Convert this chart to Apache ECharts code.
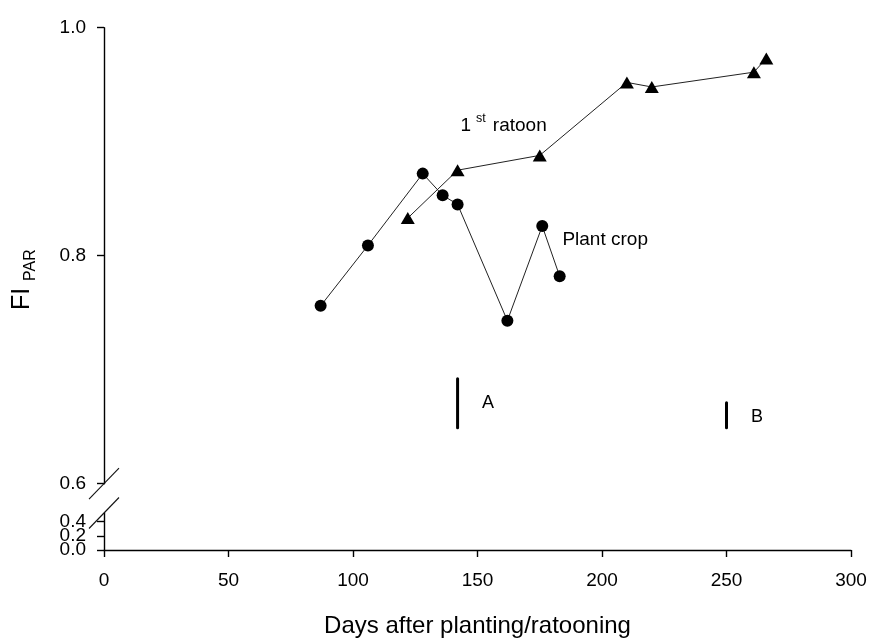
<!DOCTYPE html>
<html>
<head>
<meta charset="utf-8">
<script src="https://cdn.jsdelivr.net/npm/echarts@6/dist/echarts.min.js"></script>
<style>
  html, body { margin: 0; padding: 0; background: #fff; }
  #chart { width: 871px; height: 639px; }
</style>
</head>
<body>
<div id="chart"></div>
<script>
// Fraction of intercepted PAR versus days after planting / ratooning
var plantDays = [87, 106, 128, 136, 142, 162, 176, 183];
var plantFi   = [0.756, 0.809, 0.872, 0.853, 0.845, 0.743, 0.826, 0.782];

var ratoonDays = [122, 142, 175, 210, 220, 261, 266];
var ratoonFi   = [0.833, 0.875, 0.888, 0.952, 0.948, 0.961, 0.973];

// Least significant difference bars (day, low, high)
var lsdNames = ['A', 'B'];
var lsdDay   = [142, 250];
var lsdLow   = [0.649, 0.649];
var lsdHigh  = [0.692, 0.671];

var xTicks = [0, 50, 100, 150, 200, 250, 300];
var yTicksUpper = [0.6, 0.8, 1.0];
var yTicksLower = [0.0, 0.2, 0.4];

var FONT = '"Liberation Sans", Arial, sans-serif';
var INK = '#000';

function zip(a, b) { return a.map(function (v, i) { return [v, b[i]]; }); }

var chart = echarts.init(document.getElementById('chart'), null, { renderer: 'canvas' });

var series = [
  {
    name: 'Plant crop', type: 'line', xAxisIndex: 0, yAxisIndex: 0,
    data: zip(plantDays, plantFi),
    symbol: 'circle', symbolSize: 12,
    itemStyle: { color: INK },
    lineStyle: { color: '#222', width: 1 },
    animation: false, z: 3
  },
  {
    name: '1st ratoon', type: 'line', xAxisIndex: 0, yAxisIndex: 0,
    data: zip(ratoonDays, ratoonFi),
    symbol: 'triangle', symbolSize: [14, 12],
    itemStyle: { color: INK },
    lineStyle: { color: '#222', width: 1 },
    animation: false, z: 3
  }
];

lsdNames.forEach(function (n, i) {
  series.push({
    name: 'LSD ' + n, type: 'line', xAxisIndex: 0, yAxisIndex: 0,
    data: [[lsdDay[i], lsdLow[i]], [lsdDay[i], lsdHigh[i]]],
    symbol: 'none',
    lineStyle: { color: INK, width: 3, cap: 'round' },
    animation: false, z: 2
  });
});

var labelStyle = { color: INK, fontFamily: FONT, fontSize: 19 };

chart.setOption({
  animation: false,
  backgroundColor: '#fff',
  grid: [
    { left: 104, right: 20, top: 27.7, height: 456, containLabel: false },
    { left: 104, right: 20, top: 513, height: 37.7, containLabel: false }
  ],
  xAxis: [
    { gridIndex: 0, type: 'value', min: 0, max: 300, interval: 50, show: false },
    {
      gridIndex: 1, type: 'value', min: 0, max: 300, interval: 50,
      axisLine: { show: true, onZero: false, lineStyle: { color: INK, width: 1.4 } },
      axisTick: { show: true, length: 7, inside: false, lineStyle: { color: INK, width: 1.4 } },
      axisLabel: Object.assign({ margin: 21, showMinLabel: true, showMaxLabel: true,
        customValues: xTicks }, labelStyle),
      splitLine: { show: false },
      name: 'Days after planting/ratooning',
      nameLocation: 'middle', nameGap: 64,
      nameTextStyle: { color: INK, fontFamily: FONT, fontSize: 24 }
    }
  ],
  yAxis: [
    {
      gridIndex: 0, type: 'value', min: 0.6, max: 1.0, interval: 0.2,
      axisLine: { show: true, onZero: false, lineStyle: { color: INK, width: 1.4 } },
      axisTick: { show: true, length: 7, inside: false, customValues: yTicksUpper,
        lineStyle: { color: INK, width: 1.4 } },
      axisLabel: Object.assign({ margin: 18, customValues: yTicksUpper,
        formatter: function (v) { return v.toFixed(1); } }, labelStyle),
      splitLine: { show: false }
    },
    {
      // lower panel: labels are tightly packed, so they are drawn below as text
      gridIndex: 1, type: 'value', min: 0, max: 0.52,
      axisLine: { show: true, onZero: false, lineStyle: { color: INK, width: 1.4 } },
      axisTick: { show: true, length: 7, inside: false, customValues: yTicksLower,
        lineStyle: { color: INK, width: 1.4 } },
      axisLabel: { show: false },
      splitLine: { show: false }
    }
  ],
  series: series
});

// Annotations placed in data space of the upper panel
function px(x, y) { return chart.convertToPixel({ gridIndex: 0 }, [x, y]); }

function text(str, p, size, extra) {
  return {
    type: 'text', x: p[0], y: p[1], silent: true, z: 10,
    style: Object.assign({ text: str, fill: INK, font: size + 'px ' + FONT,
      textAlign: 'left', textVerticalAlign: 'middle' }, extra || {})
  };
}

var ratoonAnchor = px(143.2, 0.9138);
var plantAnchor = px(184.1, 0.814);
var graphics = [
  text('1', ratoonAnchor, 19),
  text('st', [ratoonAnchor[0] + 15.5, ratoonAnchor[1] - 7.5], 12.5),
  text('ratoon', [ratoonAnchor[0] + 32.3, ratoonAnchor[1]], 19),
  text('Plant crop', plantAnchor, 19)
];
lsdNames.forEach(function (n, i) {
  var mid = px(lsdDay[i], (lsdLow[i] + lsdHigh[i]) / 2);
  graphics.push(text(n, [mid[0] + 24.5, mid[1] + (i === 0 ? 0 : 1.5)], 18));
});

// Tick labels of the lower y panel
yTicksLower.forEach(function (v) {
  var p = chart.convertToPixel({ gridIndex: 1 }, [0, v]);
  graphics.push(text(v.toFixed(1), [p[0] - 18, p[1]], 19, { textAlign: 'right' }));
});

// Y axis title: FI with PAR subscript, rotated
graphics.push({
  type: 'text', x: 22, y: 310, rotation: Math.PI / 2, silent: true,
  style: { text: 'FI', fill: INK, font: '25px ' + FONT, textAlign: 'left', textVerticalAlign: 'middle' }
});
graphics.push({
  type: 'text', x: 31, y: 281, rotation: Math.PI / 2, silent: true,
  style: { text: 'PAR', fill: INK, font: '16px ' + FONT, textAlign: 'left', textVerticalAlign: 'middle' }
});

// Axis break marks on the y axis
var upperBreak = px(0, 0.6);
var lowerBreak = chart.convertToPixel({ gridIndex: 1 }, [0, 0.52]);
[upperBreak, lowerBreak].forEach(function (b) {
  graphics.push({
    type: 'line', silent: true, z: 10,
    shape: { x1: b[0] - 15, y1: b[1] + 15.5, x2: b[0] + 15, y2: b[1] - 15.5 },
    style: { stroke: '#111', lineWidth: 1.1 }
  });
});

chart.setOption({ graphic: graphics });
</script>
</body>
</html>
